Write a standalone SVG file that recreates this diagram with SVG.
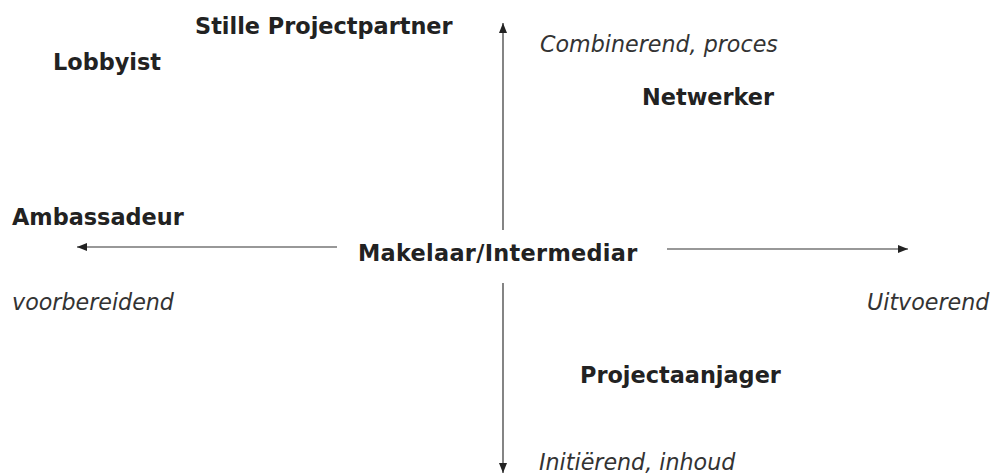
<svg xmlns="http://www.w3.org/2000/svg" width="991" height="476" viewBox="0 0 991 476">
<defs>
<marker id="ah" viewBox="0 0 10 8" refX="10" refY="4" markerWidth="10" markerHeight="8" markerUnits="userSpaceOnUse" orient="auto">
<path d="M0,0 L10,4 L0,8 Z" fill="#222"/>
</marker>
</defs>
<style>
.b{font-family:"DejaVu Sans",Verdana,sans-serif;font-weight:bold;font-size:22.4px;fill:#222}
.i{font-family:"DejaVu Sans",Verdana,sans-serif;font-style:italic;font-size:22.2px;fill:#333}
.ax{stroke:#333;stroke-width:1.2;fill:none;marker-end:url(#ah)}
</style>
<rect width="991" height="476" fill="#fff"/>
<g id="connectors">
<line class="ax" x1="503" y1="230" x2="503" y2="23"/>
<line class="ax" x1="503" y1="283" x2="503" y2="473"/>
<line class="ax" x1="337" y1="247" x2="77" y2="247"/>
<line class="ax" x1="667" y1="249" x2="908" y2="249"/>
</g>
<g id="stille"><text class="b" x="195" y="34">Stille Projectpartner</text></g>
<g id="lobbyist"><text class="b" x="53" y="70">Lobbyist</text></g>
<g id="combinerend"><text class="i" x="540" y="52">Combinerend, proces</text></g>
<g id="netwerker"><text class="b" x="642" y="105">Netwerker</text></g>
<g id="ambassadeur"><text class="b" x="12" y="225">Ambassadeur</text></g>
<g id="makelaar"><text class="b" x="358" y="261" letter-spacing="0.3">Makelaar/Intermediar</text></g>
<g id="voorbereidend"><text class="i" x="12" y="310">voorbereidend</text></g>
<g id="uitvoerend"><text class="i" x="867" y="310">Uitvoerend</text></g>
<g id="projectaanjager"><text class="b" x="580" y="383">Projectaanjager</text></g>
<g id="initierend"><text class="i" x="539" y="470">Initiërend, inhoud</text></g>
</svg>
